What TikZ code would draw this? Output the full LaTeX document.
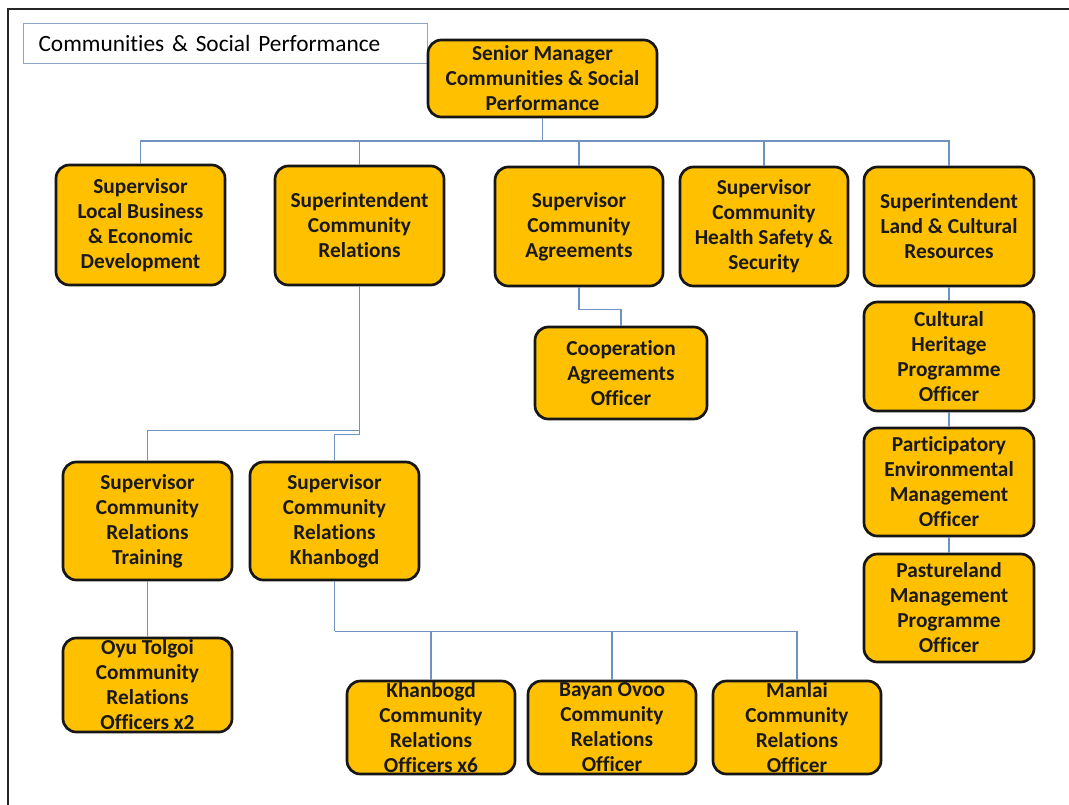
\documentclass[tikz,border=0pt]{standalone}
\usepackage{fontspec}
\setmainfont{Carlito}[Ligatures=NoCommon]
\definecolor{gold}{RGB}{255,192,0}
\definecolor{edgeink}{RGB}{22,22,22}
\definecolor{linkblue}{RGB}{112,146,190}
\definecolor{titleline}{RGB}{140,165,200}
% \orgbox{name}{x}{y}{width}{height}{text}, all in pixel units
\newcommand{\orgbox}[6]{\node[box, minimum width=#4*0.75pt, minimum height=#5*0.75pt] (#1) at (#2,#3) {#6};}
\begin{document}
\begin{tikzpicture}[x=0.75pt,y=-0.75pt,
  box/.style={draw=edgeink, line width=2pt, fill=gold, rounded corners=10pt,
    align=center, inner sep=0pt, text=black!90,
    font=\bfseries\fontsize{16}{18.75}\selectfont},
  link/.style={draw=linkblue, line width=0.8pt}]
\useasboundingbox (0,0) rectangle (1069,805);
\fill[white] (0,0) rectangle (1069,805);
% page frame
\draw[line width=1.3pt, black!85] (8,805) -- (8,9) -- (1069,9);

% heading
\node[draw=titleline, line width=0.8pt, anchor=north west, minimum height=40*0.75pt,
  text width=374*0.75pt, inner xsep=15*0.75pt, inner ysep=0pt, align=left,
  font=\fontsize{17.5}{21}\selectfont] (title) at (23,23) {Communities \& Social Performance};

% top level
\orgbox{sm}{542.5}{78.5}{229}{77}{Senior Manager\\Communities \& Social\\Performance}

% second level
\orgbox{lbd}{140.5}{225}{169}{120}{Supervisor\\Local Business\\\& Economic\\Development}
\orgbox{scr}{359.5}{225.5}{169}{119}{Superintendent\\Community\\Relations}
\orgbox{sca}{579}{226.5}{168}{119}{Supervisor\\Community\\Agreements}
\orgbox{shs}{764}{226.5}{168}{119}{Supervisor\\Community\\Health Safety \&\\Security}
\orgbox{slc}{949}{226.5}{170}{119}{Superintendent\\Land \& Cultural\\Resources}

% agreements branch
\orgbox{coa}{621}{373}{172}{92}{Cooperation\\Agreements\\Officer}

% land & cultural branch
\orgbox{chp}{949}{356.5}{170}{109}{Cultural\\Heritage\\Programme\\Officer}
\orgbox{pem}{949}{482}{170}{108}{Participatory\\Environmental\\Management\\Officer}
\orgbox{pmp}{949}{608}{170}{108}{Pastureland\\Management\\Programme\\Officer}

% community relations branch
\orgbox{crt}{147.5}{521}{169}{118}{Supervisor\\Community\\Relations\\Training}
\orgbox{crk}{334.5}{521}{169}{118}{Supervisor\\Community\\Relations\\Khanbogd}
\orgbox{oyu}{147.5}{685}{169}{94}{Oyu Tolgoi\\Community\\Relations\\Officers x2}
\orgbox{kcr}{431}{727.5}{168}{93}{Khanbogd\\Community\\Relations\\Officers x6}
\orgbox{boc}{612}{727.5}{168}{93}{Bayan Ovoo\\Community\\Relations\\Officer}
\orgbox{mcr}{797}{727.5}{168}{93}{Manlai\\Community\\Relations\\Officer}

% connectors
\coordinate (bus) at (542.5,141);
\draw[link] (sm.south) -- (bus);
\foreach \n in {lbd,scr,sca,shs,slc}
  \draw[link] (bus) -| (\n.north);
\draw[link] (sca.south) -- ++(0,22) -| (coa.north);
\draw[link] (slc) -- (chp);
\draw[link] (chp) -- (pem);
\draw[link] (pem) -- (pmp);
\draw[link] (scr.south) -- ++(0,144) -| (crt.north);
\draw[link] (scr.south) -- ++(0,148) -| (crk.north);
\draw[link] (crt) -- (oyu);
\draw[link] (crk.south) -- ++(0,50) coordinate (kbus);
\foreach \n in {kcr,boc,mcr}
  \draw[link] (kbus) -| (\n.north);
\end{tikzpicture}
\end{document}
